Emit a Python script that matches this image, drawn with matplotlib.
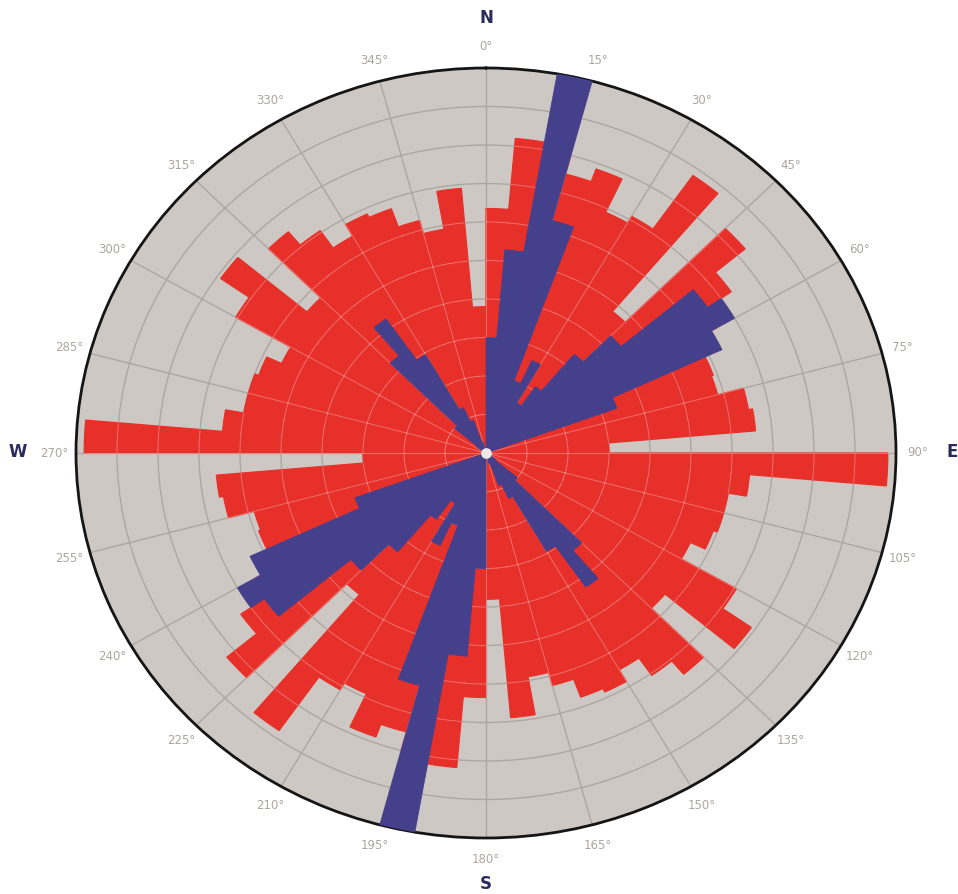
import numpy as np
import matplotlib
matplotlib.use("Agg")
import matplotlib.pyplot as plt

# 5 degree bins from 0 to 180; the data is axial, so every bin is drawn
# a second time at +180 degrees
bin_start = np.arange(0, 180, 5)
red_counts = [6.35, 8.2, 8.0, 7.5, 7.85, 6.9, 7.1, 8.8, 4.8,
              8.25, 7.3, 6.5, 5.9, 5.9, 5.85, 6.5, 6.6, 3.0,
              9.8, 6.45, 6.0, 6.0, 5.9, 5.5, 7.05, 7.9, 5.7,
              7.5, 7.05, 6.5, 6.85, 6.75, 6.25, 5.9, 6.9, 3.8]
blue_counts = [3.0, 5.3, 10.0, 6.25, 2.0, 2.65, 1.5, 2.1, 3.35,
               4.3, 6.6, 7.0, 6.35, 3.4, 0, 0, 0, 0,
               0, 0, 0, 0, 0, 0, 0, 0.3, 1.0,
               3.3, 4.25, 2.95, 1.3, 0.9, 0.3, 0, 0, 0]
tick_angles = np.arange(0, 360, 15)
tick_labels = ["%d°" % a for a in tick_angles]
compass = ["N", "E", "S", "W"]

RED = "#e8302a"
BLUE = "#45408c"
BG = "#cdc8c3"

fig = plt.figure(figsize=(9.58, 8.94), dpi=100)
ax = fig.add_axes([76 / 958, 56 / 894, 820 / 958, 770 / 894], projection="polar")
ax.set_aspect("auto")
ax.set_theta_zero_location("N")
ax.set_theta_direction(-1)
ax.set_facecolor(BG)

theta_all = np.radians(np.r_[bin_start, bin_start + 180])
red_all = np.r_[red_counts, red_counts]
blue_all = np.r_[blue_counts, blue_counts]
width = np.radians(5)

ax.bar(theta_all, red_all, width=width, align="edge", color=RED,
       edgecolor=RED, linewidth=0.9, zorder=2)

# light grid drawn over the red bars only
for t0, val in zip(theta_all, red_all):
    th = np.linspace(t0, t0 + width, 12)
    for k in range(1, 10):
        if k < val:
            ax.plot(th, np.full_like(th, k), color="white", alpha=0.3,
                    lw=0.7, zorder=2.5)
for a in tick_angles:
    i = int(a // 5)
    reach = max(red_all[i % 72], red_all[(i - 1) % 72])
    ax.plot([np.radians(a)] * 2, [0, reach], color="white", alpha=0.3,
            lw=0.7, zorder=2.5)

ax.bar(theta_all, blue_all, width=width, align="edge", color=BLUE,
       edgecolor=BLUE, linewidth=0.6, zorder=3)

ax.scatter([0], [0], s=45, color="#ebe8e5", zorder=5)

ax.set_ylim(0, 10)
ax.set_yticks(range(1, 10))
ax.set_yticklabels([])
ax.set_xticks(np.radians(tick_angles))
ax.set_xticklabels(tick_labels)
ax.tick_params(axis="x", pad=5, labelsize=8.5, labelcolor="#aca69f")
ax.set_axisbelow(True)
ax.grid(True, color="#aca7a2", lw=1.0)
ax.spines["polar"].set_color("#151515")
ax.spines["polar"].set_linewidth(2)

# compass letters outside the dial
pos = [(486, 18), (952, 452), (486, 884), (18, 452)]
for letter, (px, py) in zip(compass, pos):
    fig.text(px / 958, 1 - py / 894, letter, ha="center", va="center",
             fontsize=12, fontweight="bold", color="#2b2a5c")

fig.savefig("out.png", dpi=100)
